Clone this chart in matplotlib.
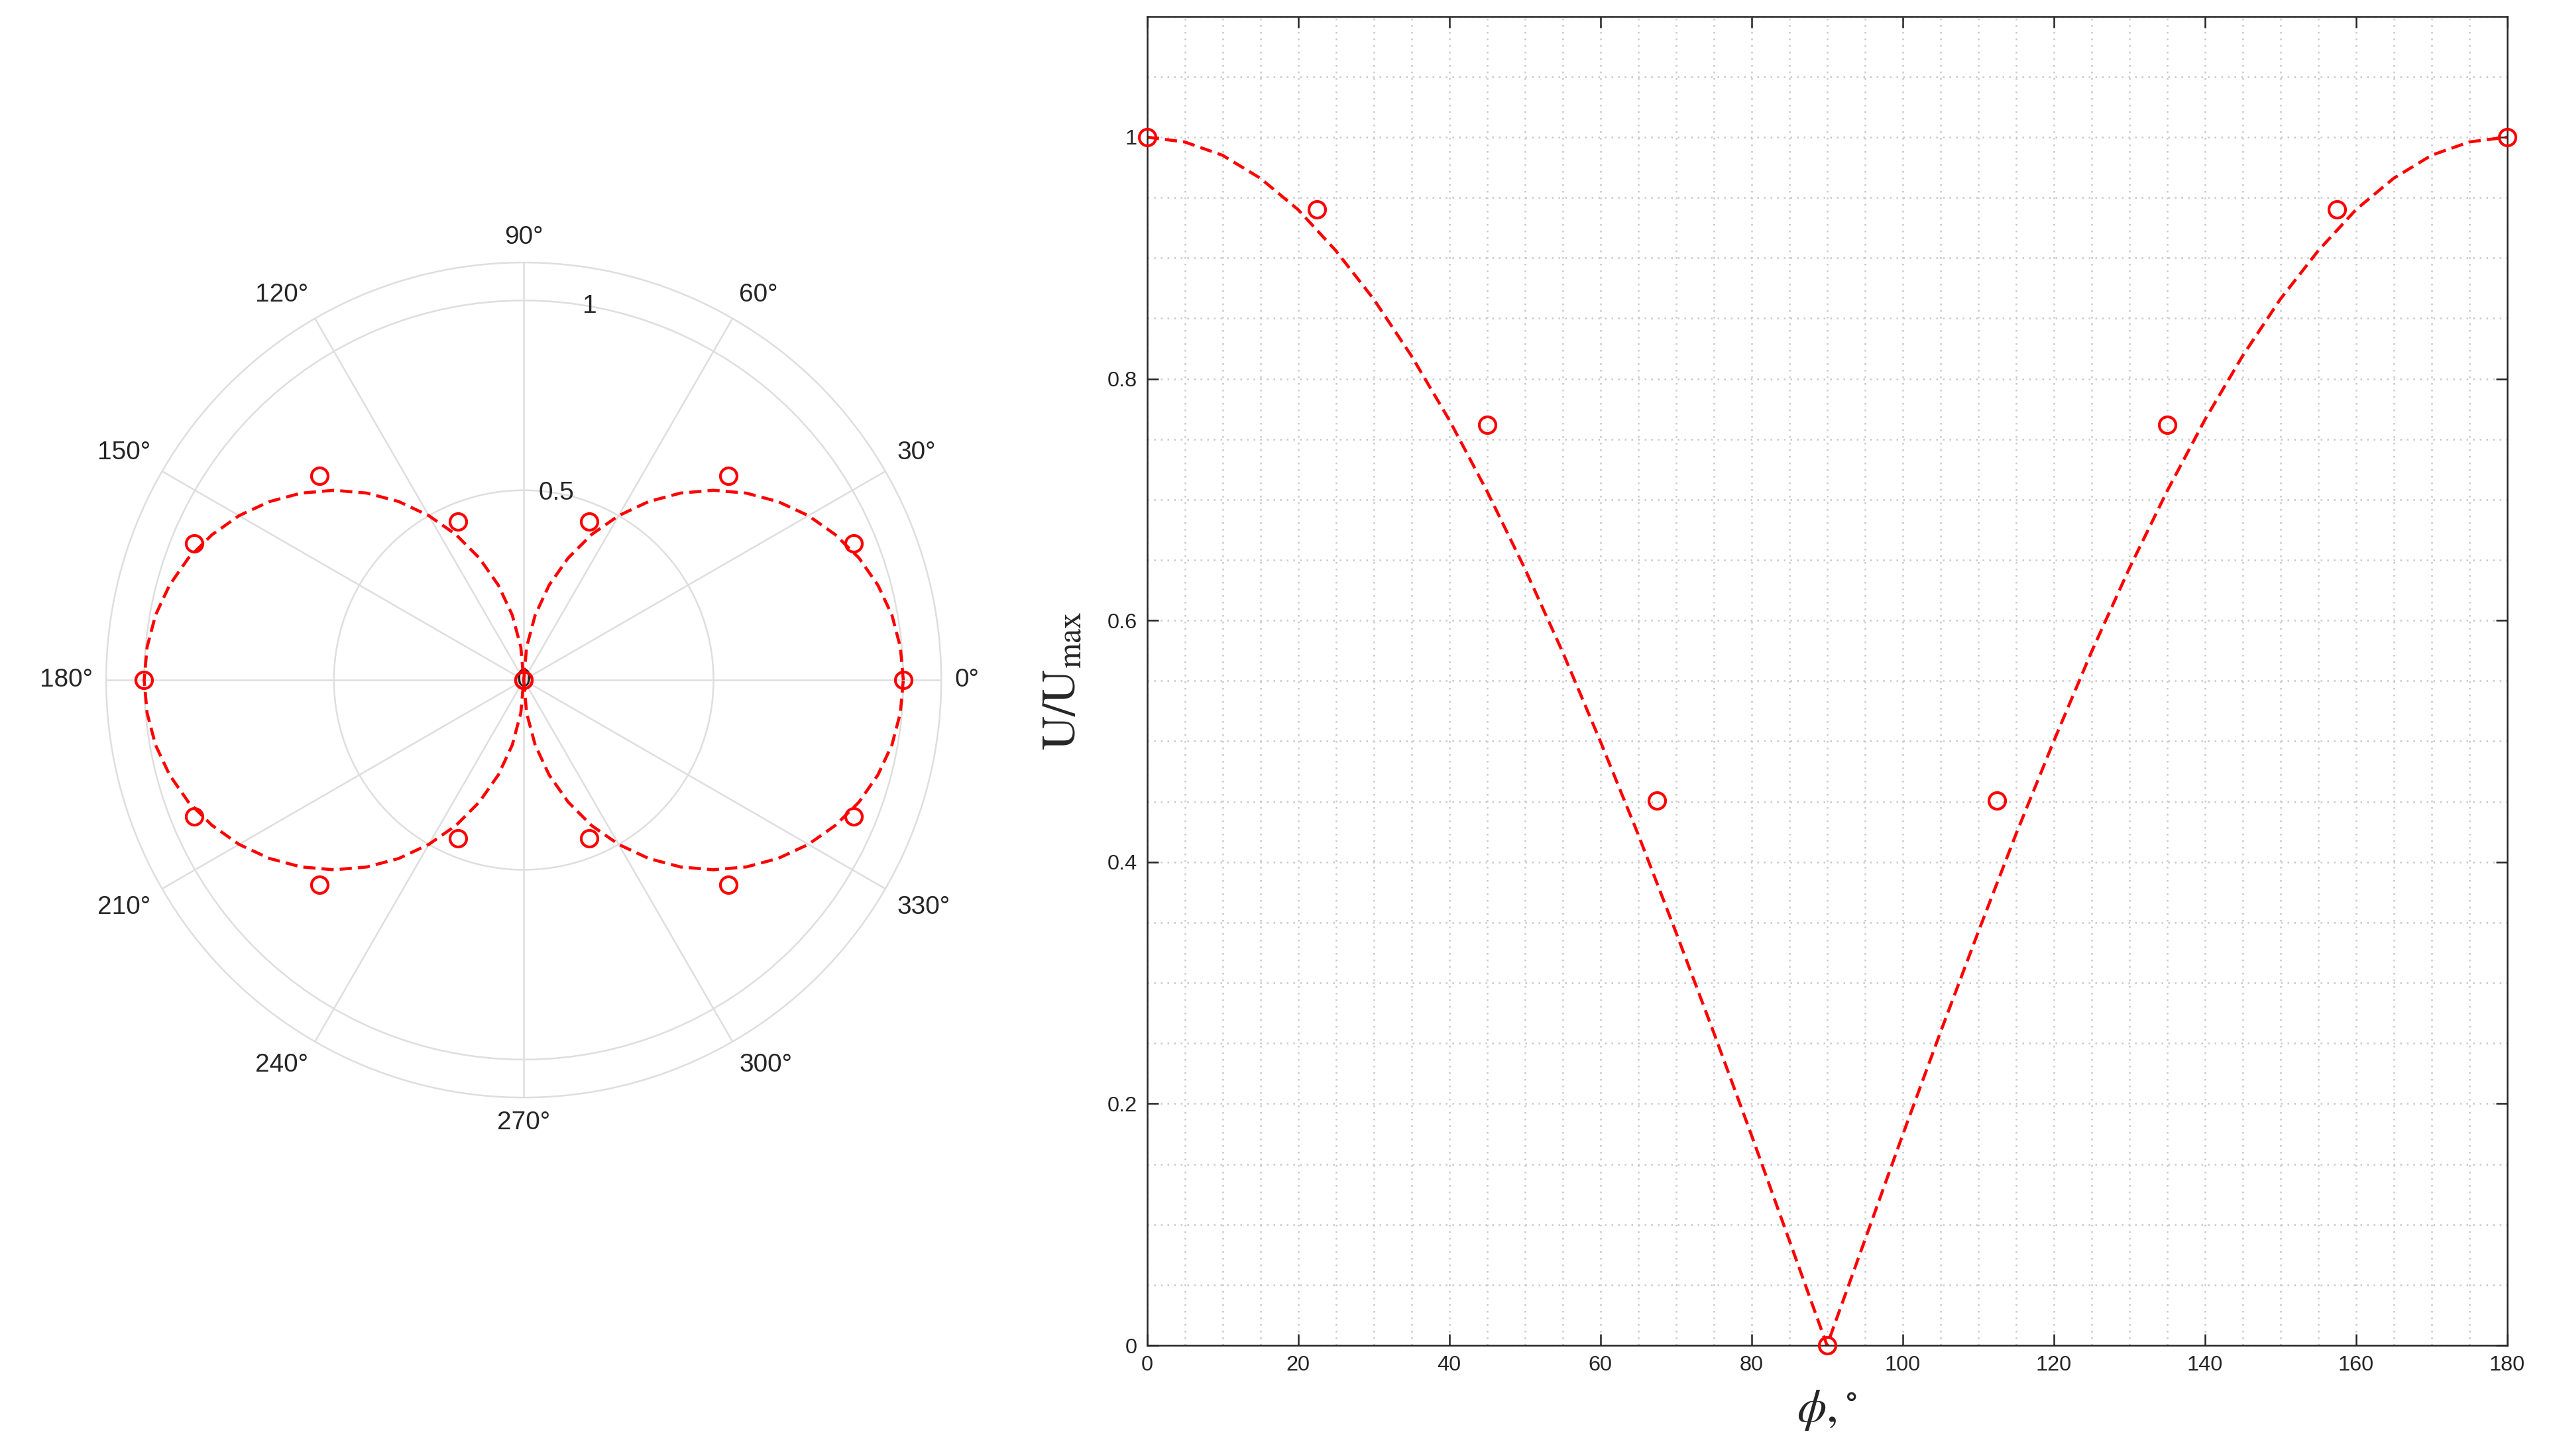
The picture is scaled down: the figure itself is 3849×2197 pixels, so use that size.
import numpy as np
import matplotlib
matplotlib.use("Agg")
import matplotlib.pyplot as plt
from matplotlib.ticker import MultipleLocator


# measured points: angle (deg) and normalised amplitude
phi_pts = [0, 22.5, 45, 67.5, 90, 112.5, 135, 157.5, 180]
u_pts = [1.0, 0.94, 0.762, 0.451, 0.0, 0.451, 0.762, 0.94, 1.0]

# fitted dashed curve, read every 5 deg over 0..180
phi_fit = list(range(0, 185, 5))
u_fit = [1.000, 0.996, 0.985, 0.966, 0.940, 0.906, 0.866, 0.819, 0.766,
         0.707, 0.643, 0.574, 0.500, 0.423, 0.342, 0.259, 0.174, 0.087,
         0.000,
         0.087, 0.174, 0.259, 0.342, 0.423, 0.500, 0.574, 0.643, 0.707,
         0.766, 0.819, 0.866, 0.906, 0.940, 0.966, 0.985, 0.996, 1.000]

x_ticks = list(range(0, 181, 20))
y_ticks = [0, 0.2, 0.4, 0.6, 0.8, 1.0]
y_tick_labels = ["0", "0.2", "0.4", "0.6", "0.8", "1"]
theta_ticks = list(range(0, 360, 30))
r_ticks = [0, 0.5, 1.0]
r_tick_labels = ["0", "0.5", "1"]

RED = "#ff0000"
TXT = "#262626"
GRID = "#dedede"

plt.rcParams["font.family"] = ["Liberation Sans", "DejaVu Sans"]
plt.rcParams["mathtext.fontset"] = "stix"

fig = plt.figure(figsize=(3849 / 300, 2197 / 300), dpi=300)

#-------------- polar pattern --------------
axp = fig.add_axes([0.0416, 0.2462, 0.3274, 0.5735], projection="polar")
# the pattern repeats every 180 deg, so the second half reuses the same values
th_full = np.deg2rad(phi_fit + [p + 180 for p in phi_fit[1:]])
r_full = u_fit + u_fit[1:]
axp.plot(th_full, r_full, color=RED, lw=1.1, ls=(0, (4, 2)))

th_pts = np.deg2rad(phi_pts + [p + 180 for p in phi_pts[1:-1]])
r_pts = u_pts + u_pts[1:-1]
axp.plot(th_pts, r_pts, ls="none", marker="o", ms=6, mfc="none",
         mec=RED, mew=1.0, clip_on=False, zorder=5)

axp.set_ylim(0, 1.1)
axp.set_thetagrids(theta_ticks, [""] * len(theta_ticks))
# angle labels anchored like MATLAB: edge nearest the circle sits at a fixed radius
for t in theta_ticks:
    c, s = np.cos(np.deg2rad(t)), np.sin(np.deg2rad(t))
    ha = "center" if abs(c) < 0.3 else ("left" if c > 0 else "right")
    va = "center" if abs(s) < 0.3 else ("bottom" if s > 0 else "top")
    axp.text(np.deg2rad(t), 1.135, f"{t}°", ha=ha, va=va, fontsize=9.3,
             color=TXT, clip_on=False)
axp.set_rticks(r_ticks)
axp.set_yticklabels(r_tick_labels)
axp.set_rlabel_position(80)
for lbl in axp.get_yticklabels():
    lbl.set_ha("center")
    lbl.set_va("center")
axp.grid(True, color=GRID, lw=0.6)
axp.spines["polar"].set_color(GRID)
axp.spines["polar"].set_linewidth(0.6)
axp.tick_params(axis="y", labelsize=9.3, colors=TXT)

#-------------- cartesian plot --------------
ax = fig.add_axes([0.4496, 0.0760, 0.5332, 0.9128])
ax.plot(phi_fit, u_fit, color=RED, lw=1.1, ls=(0, (4, 2)))
ax.plot(phi_pts, u_pts, ls="none", marker="o", ms=6, mfc="none",
        mec=RED, mew=1.0, clip_on=False, zorder=5)

ax.set_xlim(0, 180)
ax.set_ylim(0, 1.1)
ax.set_xticks(x_ticks)
ax.set_yticks(y_ticks)
ax.set_yticklabels(y_tick_labels)
ax.xaxis.set_minor_locator(MultipleLocator(5))
ax.yaxis.set_minor_locator(MultipleLocator(0.05))
ax.grid(True, which="both", color="#c8c8c8", ls=(0, (1, 3)), lw=0.6)
ax.set_axisbelow(True)
ax.tick_params(which="major", direction="in", length=4, width=0.6,
               top=True, right=True, colors=TXT, labelsize=7.8)
ax.tick_params(which="minor", length=0)
for s in ax.spines.values():
    s.set_color(TXT)
    s.set_linewidth(0.6)

ax.set_ylabel(r"$\mathrm{U/U_{max}}$", fontsize=17, color=TXT, labelpad=8)
ax.set_xlabel(r"$\phi,^{\circ}$", fontsize=17, color=TXT, labelpad=5)

fig.savefig("out.png", dpi=300, facecolor="white")
